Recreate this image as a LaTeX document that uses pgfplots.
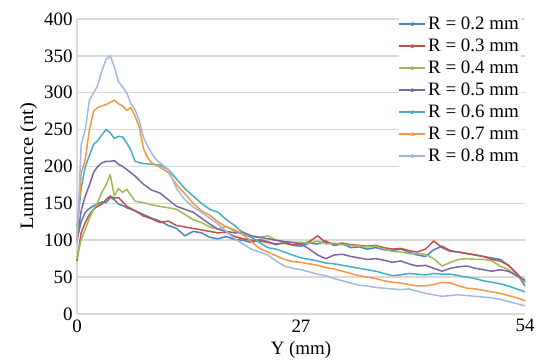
\documentclass[border=0pt]{standalone}
\usepackage{pgfplots}
\pgfplotsset{compat=1.18}
\usepackage{fontspec}
\setmainfont{Liberation Serif}
\usetikzlibrary{calc}
\definecolor{c2}{HTML}{4F81BD}
\definecolor{c3}{HTML}{C0504D}
\definecolor{c4}{HTML}{9BBB59}
\definecolor{c5}{HTML}{8064A2}
\definecolor{c6}{HTML}{4BACC6}
\definecolor{c7}{HTML}{F79646}
\definecolor{c8}{HTML}{A3B9DE}
\definecolor{gridc}{HTML}{D9D9D9}
\begin{document}
\begin{tikzpicture}
\begin{axis}[
  scale only axis, width=448bp, height=295bp,
  xmin=0, xmax=54, ymin=0, ymax=400,
  xtick={0,27,54}, ytick={0,50,...,400},
  ymajorgrids, major grid style={gridc, line width=1.5bp},
  axis x line*=bottom, axis y line*=left,
  axis line style={gridc, line width=1.2bp},
  major tick length=0pt,
  tick label style={font=\fontsize{19}{21}\selectfont},
  /pgf/number format/assume math mode=true,
  xticklabel style={yshift=-2bp},
  yticklabel style={xshift=-1bp},
  xlabel={Y (mm)}, ylabel={Luminance (nt)},
  label style={font=\fontsize{19}{21}\selectfont},
  xlabel style={yshift=-2bp},
  ylabel style={yshift=0bp, xscale=1.08},
  clip=false,
  every axis plot/.append style={line width=1.5bp, line join=round},
  legend style={at={(rel axis cs:1,1)}, xshift=-4bp, yshift=6bp, anchor=north east, draw=none, fill=white,
    font=\fontsize{19}{20}\selectfont, row sep=0bp, inner sep=0bp,
    nodes={inner sep=2bp, text height=14bp, text depth=4bp}},
  legend cell align=left,
  legend image code/.code={\draw[#1] (0bp,0bp) -- (26bp,0bp); \fill[#1] (13bp,0bp) circle (1.2bp);},
]
\coordinate (SW) at (rel axis cs:0,0);
\coordinate (NE) at (rel axis cs:1,1);
\addplot[c2] coordinates {(0,100)(0.5,125)(1,138)(1.5,143)(2,147)(2.5,149)(3,152)(3.5,151)(4,158)(4.5,155)(5,149)(5.5,147)(6,144)(7,140)(8,135)(9,130)(10,126)(11,120)(12,116)(13,106)(14,112)(15,110)(16,104)(17,102)(18,105)(19,101)(20,100)(21,97)(22,101)(23,98)(24,94)(25,97)(26,93)(27,92)(28,96)(29,95)(30,99)(31,93)(32,95)(33,90)(34,91)(35,88)(36,90)(37,87)(38,86)(39,88)(40,84)(41,80)(42,78)(43,87)(44,92)(45,86)(46,84)(47,82)(48,80)(49,78)(50,76)(51,74)(52,66)(53,55)(54,38)};
\addlegendentry{R = 0.2 mm}
\addplot[c3] coordinates {(0,72)(0.5,110)(1,124)(1.5,135)(2,142)(2.5,146)(3,149)(3.5,155)(4,160)(4.5,157)(5,158)(5.5,152)(6,146)(7,140)(8,133)(9,129)(10,124)(11,126)(12,120)(13,118)(14,116)(15,114)(16,112)(17,110)(18,111)(19,105)(20,102)(21,100)(22,99)(23,97)(24,95)(25,96)(26,94)(27,95)(28,98)(29,106)(30,97)(31,95)(32,96)(33,94)(34,93)(35,92)(36,93)(37,90)(38,88)(39,89)(40,86)(41,84)(42,88)(43,99)(44,90)(45,85)(46,84)(47,82)(48,80)(49,78)(50,74)(51,72)(52,66)(53,55)(54,43)};
\addlegendentry{R = 0.3 mm}
\addplot[c4] coordinates {(0,75)(0.5,101)(1,115)(1.5,130)(2,142)(2.5,152)(3,165)(3.5,175)(4,189)(4.5,160)(5,170)(5.5,165)(6,169)(7,153)(8,151)(9,148)(10,146)(11,144)(12,142)(13,135)(14,128)(15,124)(16,118)(17,115)(18,119)(19,112)(20,108)(21,105)(22,104)(23,106)(24,100)(25,98)(26,97)(27,97)(28,96)(29,99)(30,95)(31,96)(32,94)(33,93)(34,92)(35,91)(36,92)(37,88)(38,85)(39,84)(40,82)(41,82)(42,81)(43,75)(44,65)(45,70)(46,74)(47,75)(48,74)(49,74)(50,72)(51,65)(52,60)(53,52)(54,43)};
\addlegendentry{R = 0.4 mm}
\addplot[c5] coordinates {(0,100)(0.5,140)(1,160)(1.5,175)(2,192)(2.5,200)(3,205)(3.5,207)(4,207)(4.5,208)(5,203)(5.5,200)(6,196)(7,187)(8,176)(9,168)(10,164)(11,155)(12,146)(13,142)(14,138)(15,130)(16,122)(17,115)(18,112)(19,110)(20,111)(21,106)(22,104)(23,102)(24,100)(25,98)(26,97)(27,95)(28,88)(29,80)(30,75)(31,80)(32,81)(33,78)(34,76)(35,74)(36,75)(37,73)(38,70)(39,72)(40,68)(41,65)(42,66)(43,62)(44,58)(45,62)(46,64)(47,65)(48,62)(49,60)(50,58)(51,60)(52,58)(53,52)(54,46)};
\addlegendentry{R = 0.5 mm}
\addplot[c6] coordinates {(0,118)(0.5,170)(1,200)(1.5,215)(2,230)(2.5,235)(3,243)(3.5,250)(4,246)(4.5,238)(5,241)(5.5,240)(6,232)(6.5,222)(7,207)(8,204)(9,203)(10,202)(11,196)(12,183)(13,170)(14,160)(15,150)(16,142)(17,138)(18,128)(19,120)(20,110)(21,104)(22,97)(23,90)(24,88)(25,84)(26,80)(27,76)(28,74)(29,72)(30,69)(31,68)(32,66)(33,64)(34,62)(35,60)(36,58)(37,55)(38,52)(39,53)(40,55)(41,54)(42,53)(43,55)(44,54)(45,54)(46,52)(47,50)(48,48)(49,45)(50,43)(51,41)(52,38)(53,34)(54,30)};
\addlegendentry{R = 0.6 mm}
\addplot[c7] coordinates {(0,100)(0.5,190)(1,210)(1.5,250)(2,275)(2.5,280)(3,282)(3.5,284)(4,287)(4.5,290)(5,285)(5.5,282)(6,276)(6.5,280)(7,268)(7.5,254)(8,225)(8.5,212)(9,205)(10,199)(11,192)(12,175)(13,163)(14,150)(15,140)(16,134)(17,125)(18,118)(19,114)(20,108)(21,98)(22,89)(23,84)(24,79)(25,74)(26,71)(27,70)(28,68)(29,66)(30,63)(31,61)(32,58)(33,55)(34,52)(35,50)(36,48)(37,45)(38,43)(39,42)(40,40)(41,38)(42,38)(43,40)(44,43)(45,42)(46,38)(47,35)(48,34)(49,32)(50,30)(51,28)(52,25)(53,22)(54,18)};
\addlegendentry{R = 0.7 mm}
\addplot[c8] coordinates {(0,95)(0.5,230)(1,250)(1.5,290)(2,300)(2.5,310)(3,330)(3.5,345)(4,350)(4.5,335)(5,315)(5.5,308)(6,300)(6.5,285)(7,277)(7.5,262)(8,240)(8.5,228)(9,218)(9.5,210)(10,205)(11,196)(12,170)(13,155)(14,145)(15,138)(16,130)(17,122)(18,112)(19,102)(20,95)(21,88)(22,84)(23,80)(24,72)(25,65)(26,62)(27,60)(28,57)(29,54)(30,52)(31,48)(32,45)(33,42)(34,39)(35,38)(36,36)(37,35)(38,34)(39,33)(40,34)(41,31)(42,28)(43,26)(44,24)(45,25)(46,26)(47,25)(48,24)(49,23)(50,22)(51,20)(52,17)(53,14)(54,11)};
\addlegendentry{R = 0.8 mm}
\end{axis}
\pgfresetboundingbox
\path[use as bounding box] ($(SW)+(-77bp,-48bp)$) rectangle ($(NE)+(11bp,19bp)$);
\end{tikzpicture}
\end{document}
